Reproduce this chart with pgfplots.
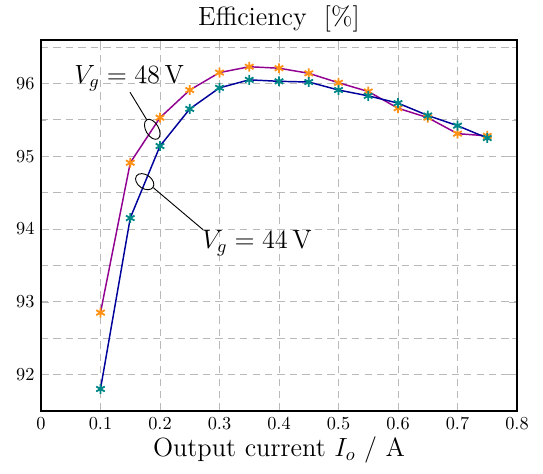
\documentclass[border=0pt]{standalone}
\usepackage{pgfplots}
\pgfplotsset{compat=1.18}
\usetikzlibrary{shapes.geometric}

\definecolor{line48}{RGB}{145,0,145}
\definecolor{line44}{RGB}{0,0,155}
\definecolor{mark48}{RGB}{255,145,20}
\definecolor{mark44}{RGB}{0,135,135}

\begin{document}
\begin{tikzpicture}
\begin{axis}[
  scale only axis,
  width=260.1pt, height=202.7pt,
  xmin=0, xmax=0.8, ymin=91.5, ymax=96.6,
  xtick={0,0.1,...,0.8},
  xticklabels={0,0.1,0.2,0.3,0.4,0.5,0.6,0.7,0.8},
  ytick={92,93,94,95,96},
  minor ytick={91.5,92.5,93.5,94.5,95.5,96.5},
  grid=both,
  grid style={dash pattern=on 4pt off 2.8pt, gray!55, line width=0.5pt},
  minor grid style={dash pattern=on 4pt off 2.8pt, gray!55, line width=0.5pt},
  major tick style={gray!55},
  minor tick style={gray!55},
  axis line style={line width=1pt},
  title={\Large Efficiency~~[\%]},
  title style={yshift=-5.5pt},
  xlabel={\Large Output current $I_o$ / A},
  xlabel style={yshift=3pt},
]
% V_g = 48 V
\addplot[line48, thick, mark=asterisk, mark size=2.7pt,
  mark options={mark48, line width=1pt}] coordinates {
  (0.10,92.85) (0.15,94.91) (0.20,95.53) (0.25,95.91) (0.30,96.15)
  (0.35,96.23) (0.40,96.21) (0.45,96.14) (0.50,96.01) (0.55,95.89)
  (0.60,95.66) (0.65,95.53) (0.70,95.31) (0.75,95.28)};
% V_g = 44 V
\addplot[line44, thick, mark=asterisk, mark size=2.7pt,
  mark options={mark44, line width=1pt}] coordinates {
  (0.10,91.80) (0.15,94.15) (0.20,95.14) (0.25,95.65) (0.30,95.94)
  (0.35,96.05) (0.40,96.03) (0.45,96.02) (0.50,95.91) (0.55,95.83)
  (0.60,95.73) (0.65,95.56) (0.70,95.42) (0.75,95.25)};

% curve annotations
\node[draw, ellipse, inner sep=0pt, minimum width=7pt, minimum height=12pt,
  rotate=30, line width=0.5pt] (e48) at (axis cs:0.187,95.37) {};
\draw[line width=0.5pt] (axis cs:0.1496,95.88) -- (e48.north);
\node[font=\Large] at (axis cs:0.148,96.07) {$V_g = 48\,$V};

\node[draw, ellipse, inner sep=0pt, minimum width=11pt, minimum height=7.5pt,
  rotate=-35, line width=0.5pt] (e44) at (axis cs:0.1743,94.65) {};
\draw[line width=0.5pt] (e44.east) -- (axis cs:0.2723,93.99);
\node[font=\Large, anchor=west, inner sep=0pt] at (axis cs:0.27,93.8) {$V_g = 44\,$V};
\end{axis}
\path (current axis.south west) +(-22.4pt,-34.4pt)
      (current axis.north east) +(14.2pt,20.8pt);
\end{tikzpicture}
\end{document}
